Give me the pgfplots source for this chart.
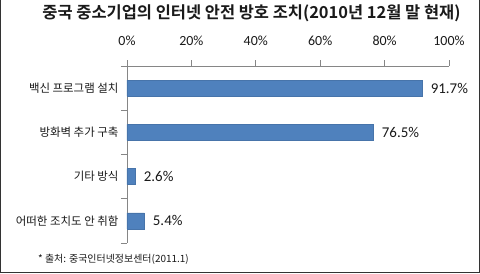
\documentclass[border=0pt]{standalone}
\usepackage{pgfplots}
\pgfplotsset{compat=1.18}
\usepackage{fontspec}
\setmainfont{Carlito}
\newfontfamily\kr{Noto Sans CJK KR}
\newfontfamily\krb{Noto Sans CJK KR Bold}
\definecolor{barblue}{HTML}{4F81BD}
\definecolor{axgray}{HTML}{868686}
\definecolor{txt}{HTML}{1A1A1A}
\begin{document}
\begin{tikzpicture}[x=1bp,y=1bp]
\useasboundingbox (-127,-30) rectangle (353,243);
\fill[white] (-127,-30) rectangle (353,243);
\draw[line width=1.2bp,black!80] (-126.4,243) -- (-126.4,-29.4) -- (352.4,-29.4) -- (352.4,243);
\begin{axis}[
  at={(0,0)}, anchor=south west,
  scale only axis, width=322bp, height=177bp,
  /pgf/number format/assume math mode=true,
  xmin=0, xmax=100, ymin=-0.5, ymax=3.5, y dir=reverse,
  axis x line*=top, axis y line*=left,
  axis line style={-, axgray, line width=0.8bp},
  every tick/.style={axgray, line width=0.8bp},
  tick align=outside,
  xtick={0,20,40,60,80,100},
  xticklabels={0\%,20\%,40\%,60\%,80\%,100\%},
  major x tick style={axgray},
  major tick length=6bp,
  xticklabel style={font=\fontsize{14}{14}\selectfont, text=txt, yshift=11bp},
  ytick={0,1,2,3},
  yticklabels={{백신 프로그램 설치},{방화벽 추가 구축},{기타 방식},{어떠한 조치도 안 취함}},
  major y tick style={draw=none},
  minor ytick={-0.5,0.5,1.5,2.5,3.5},
  minor tick length=6bp,
  minor y tick style={axgray, line width=0.8bp},
  yticklabel style={font=\kr\fontsize{11.5}{11.5}\selectfont, text=txt, xshift=1bp},
  xbar, bar width=16bp,
  nodes near coords={\pgfmathprintnumber[fixed,precision=1,fixed zerofill]{\pgfplotspointmeta}\%},
  nodes near coords style={font=\fontsize{15}{15}\selectfont, text=txt, anchor=west, xshift=5bp},
  point meta=explicit,
  clip=false,
]
\addplot[fill=barblue, draw=barblue!90!black, line width=0.4bp] coordinates {
  (91.7,0) [91.7]
  (76.5,1) [76.5]
  (2.6,2) [2.6]
  (5.4,3) [5.4]
};
\end{axis}
\node[font=\krb\fontsize{16.5}{16.5}\selectfont, text=txt] at (124.5,230) {중국 중소기업의 인터넷 안전 방호 조치(2010년 12월 말 현재)};
\node[font=\kr\fontsize{10}{10}\selectfont, text=txt, anchor=west, inner sep=0pt] at (-89,-16) {* 출처: 중국인터넷정보센터(2011.1)};
\end{tikzpicture}
\end{document}
